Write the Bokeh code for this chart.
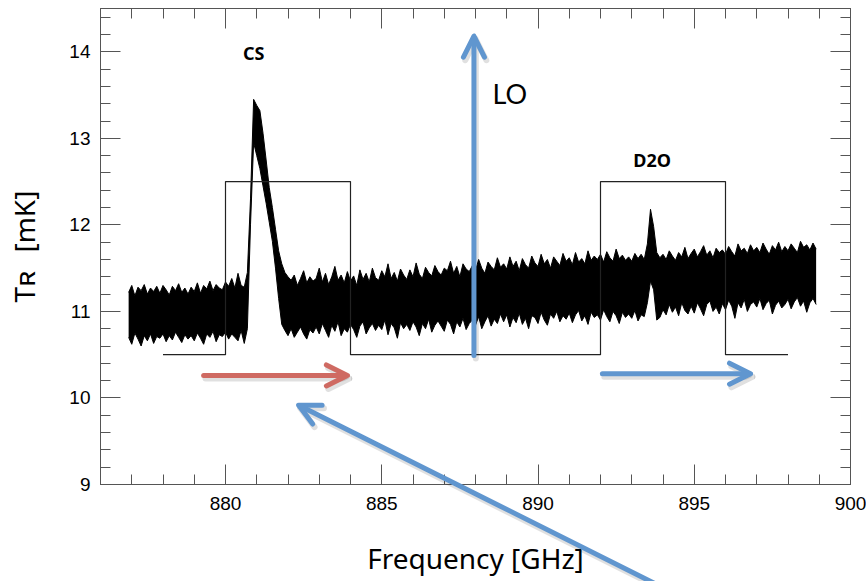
import numpy as np
from math import pi
from bokeh.plotting import figure
from bokeh.models import (LinearAxis, SingleIntervalTicker, Label, Arrow,
                          OpenHead, GridBox)
from bokeh.embed import file_html
from bokeh.resources import INLINE

# ---------------- data ----------------
# spectrometer channel grid (GHz)
freq_start = 876.9
channel_width = 0.1

# upper / lower envelope of the noisy spectrum (mK), one value per channel
spec_hi = [
    11.22, 11.30, 11.18, 11.28, 11.24, 11.31, 11.20, 11.27, 11.23, 11.29,
    11.21, 11.30, 11.25, 11.19, 11.29, 11.24, 11.32, 11.22, 11.27, 11.20,
    11.28, 11.23, 11.33, 11.21, 11.30, 11.26, 11.35, 11.24, 11.31, 11.27,
    11.25, 11.34, 11.29, 11.38, 11.27, 11.44, 11.30, 11.28, 11.45, 12.30,
    13.45, 13.38, 13.32, 13.06, 12.75, 12.43, 12.20, 11.95, 11.70, 11.55,
    11.45, 11.40, 11.36, 11.42, 11.30, 11.38, 11.47, 11.33, 11.40, 11.35,
    11.38, 11.50, 11.34, 11.44, 11.31, 11.40, 11.52, 11.36, 11.42, 11.33,
    11.46, 11.35, 11.41, 11.30, 11.48, 11.37, 11.44, 11.34, 11.50, 11.39,
    11.36, 11.47, 11.40, 11.55, 11.38, 11.45, 11.35, 11.49, 11.42, 11.37,
    11.48, 11.40, 11.56, 11.43, 11.38, 11.51, 11.45, 11.41, 11.53, 11.46,
    11.42, 11.50, 11.47, 11.58, 11.44, 11.52, 11.40, 11.55, 11.49, 11.46,
    11.53, 11.47, 11.60, 11.50, 11.44, 11.57, 11.52, 11.48, 11.62, 11.51,
    11.55, 11.49, 11.63, 11.52, 11.58, 11.47, 11.61, 11.54, 11.50, 11.64,
    11.56, 11.52, 11.66, 11.55, 11.60, 11.50, 11.63, 11.58, 11.53, 11.67,
    11.58, 11.62, 11.54, 11.68, 11.57, 11.61, 11.55, 11.70, 11.59, 11.64,
    11.60, 11.66, 11.57, 11.69, 11.62, 11.58, 11.72, 11.61, 11.65, 11.59,
    11.63, 11.58, 11.67, 11.61, 11.66, 11.60, 11.78, 12.18, 11.98, 11.68,
    11.62, 11.66, 11.60, 11.70, 11.64, 11.59, 11.68, 11.63, 11.74, 11.61,
    11.67, 11.72, 11.63, 11.69, 11.76, 11.65, 11.70, 11.62, 11.73, 11.68,
    11.71, 11.66, 11.75, 11.69, 11.64, 11.78, 11.70, 11.73, 11.67, 11.77,
    11.70, 11.74, 11.68, 11.79, 11.72, 11.66, 11.76, 11.71, 11.80, 11.69,
    11.75, 11.70, 11.78, 11.73, 11.68, 11.81, 11.74, 11.77, 11.71, 11.79,
    11.72,
]
spec_lo = [
    10.70, 10.62, 10.75, 10.68, 10.60, 10.72, 10.66, 10.74, 10.63, 10.71,
    10.69, 10.74, 10.65, 10.72, 10.67, 10.76, 10.70, 10.64, 10.73, 10.68,
    10.72, 10.66, 10.75, 10.69, 10.62, 10.74, 10.70, 10.77, 10.65, 10.73,
    10.71, 10.76, 10.68, 10.74, 10.70, 10.66, 10.78, 10.63, 10.80, 12.00,
    12.95, 12.80, 12.65, 12.45, 12.25, 12.03, 11.81, 11.50, 11.15, 10.85,
    10.78, 10.72, 10.80, 10.70, 10.76, 10.82, 10.74, 10.68, 10.79, 10.75,
    10.82, 10.74, 10.86, 10.78, 10.70, 10.84, 10.77, 10.88, 10.72, 10.80,
    10.76, 10.85, 10.79, 10.70, 10.83, 10.88, 10.74, 10.81, 10.86, 10.78,
    10.84, 10.79, 10.90, 10.73, 10.86, 10.81, 10.69, 10.87, 10.80, 10.85,
    10.78, 10.88, 10.82, 10.72, 10.86, 10.80, 10.91, 10.76, 10.84, 10.89,
    10.83, 10.77, 10.90, 10.85, 10.74, 10.88, 10.82, 10.92, 10.79, 10.86,
    10.90, 10.84, 10.94, 10.80, 10.88, 10.95, 10.83, 10.91, 10.86, 10.97,
    10.88, 10.96, 10.82, 10.93, 10.87, 10.98, 10.85, 10.92, 10.80, 10.95,
    10.93, 10.86, 10.99, 10.90, 10.84, 10.97, 10.92, 11.00, 10.88, 10.95,
    10.91, 10.98, 10.87, 10.96, 11.01, 10.89, 10.95, 10.85, 10.99, 10.93,
    10.96, 10.90, 11.02, 10.94, 10.88, 11.00, 10.95, 10.86, 10.99, 10.93,
    10.97, 10.92, 11.01, 10.89, 10.96, 10.94, 11.10, 11.35, 11.25, 10.90,
    10.93, 11.02, 10.96, 11.08, 10.99, 11.05, 10.95, 11.10, 11.01, 10.97,
    11.06, 10.98, 11.10, 11.03, 10.95, 11.08, 11.12, 11.00, 11.05, 10.97,
    11.09, 11.02, 11.13, 11.06, 10.92, 11.10, 11.04, 11.14, 11.00, 11.08,
    11.11, 11.05, 11.15, 11.02, 11.09, 11.13, 10.97, 11.07, 11.12, 11.04,
    11.08, 11.14, 11.03, 11.11, 11.16, 11.06, 11.12, 10.99, 11.10, 11.15,
    11.08,
]
freq = [round(freq_start + i * channel_width, 2) for i in range(len(spec_hi))]

# sideband boxes
box_x = [878, 880, 880, 884, 884, 892, 892, 896, 896, 898]
box_y = [10.5, 10.5, 12.5, 12.5, 10.5, 10.5, 12.5, 12.5, 10.5, 10.5]

# line labels
line_names = ["CS", "D2O"]
line_x = [880.9, 893.65]
line_y = [13.99, 12.75]

x_ticks = [880, 885, 890, 895, 900]
y_ticks = [9, 10, 11, 12, 13, 14]

BLUE = "#6096cf"
RED = "#cf6a62"
AXC = "#555555"

W, H = 866, 581
BL, BR, BT, BB = 100, 16, 8, 97
X0, X1, Y0, Y1 = 876, 900, 9, 14.5

# ---------------- figure ----------------
p = figure(width=W, height=H, x_range=(X0, X1), y_range=(Y0, Y1),
           output_backend="svg", toolbar_location=None,
           min_border_left=BL, min_border_right=BR, min_border_top=BT,
           min_border_bottom=BB)
p.frame_align = False
p.grid.visible = False
p.outline_line_color = AXC
p.background_fill_color = "white"
p.border_fill_color = "white"


def style_axis(ax, labels, ticks):
    ax.axis_line_color = AXC
    ax.major_tick_line_color = AXC
    ax.minor_tick_line_color = AXC
    ax.major_tick_in = 20
    ax.major_tick_out = 0
    ax.minor_tick_in = 10
    ax.minor_tick_out = 0
    if labels:
        ax.major_label_text_font = "Liberation Sans"
        ax.major_label_text_font_size = "19px"
        ax.major_label_text_color = "black"
    else:
        ax.major_label_text_font_size = "0px"
        ax.major_label_standoff = 0
        ax.major_label_overrides = {t: "" for t in ticks}


xt = lambda: SingleIntervalTicker(interval=5, num_minor_ticks=5)
yt = lambda: SingleIntervalTicker(interval=1, num_minor_ticks=5)

p.xaxis.ticker = xt()
p.yaxis.ticker = yt()
style_axis(p.xaxis[0], True, x_ticks)
style_axis(p.yaxis[0], True, y_ticks)
p.xaxis.major_label_standoff = 12
p.yaxis.major_label_standoff = 10
p.xaxis.axis_label = "Frequency [GHz]"
p.xaxis.axis_label_text_font = "Noto Sans"
p.xaxis.axis_label_text_font_size = "28px"
p.xaxis.axis_label_text_font_style = "normal"
p.xaxis.axis_label_text_color = "black"
p.xaxis.axis_label_standoff = 26

# T with a small-capital R standing in for the subscript
p.yaxis.axis_label = "T\u0280\u2002\u2009[mK]"
p.yaxis.axis_label_text_font = "Noto Sans"
p.yaxis.axis_label_text_font_size = "28px"
p.yaxis.axis_label_text_font_style = "normal"
p.yaxis.axis_label_text_color = "black"
p.yaxis.axis_label_standoff = 23

top = LinearAxis(ticker=xt())
style_axis(top, False, x_ticks + [875])
p.add_layout(top, "above")
right = LinearAxis(ticker=yt())
style_axis(right, False, y_ticks)
p.add_layout(right, "right")

# spectrum
p.varea(x=freq, y1=spec_lo, y2=spec_hi, fill_color="black")
p.line(freq, spec_hi, line_color="black", line_width=1)
p.line(freq, spec_lo, line_color="black", line_width=1)

# boxes
p.line(box_x, box_y, line_color="#222222", line_width=1.2)

# line labels
for name, lx, ly in zip(line_names, line_x, line_y):
    p.add_layout(Label(x=lx, y=ly, text=name, text_align="center",
                       text_baseline="middle", text_font="Noto Sans",
                       text_font_style="bold", text_font_size="18px",
                       text_color="black"))

p.add_layout(Label(x=889.1, y=13.52, text="LO", text_align="center",
                   text_baseline="middle", text_font="Lato",
                   text_font_size="27px", text_color="black"))

# transparent overlay figure spanning the whole canvas (same data mapping),
# so that the pointer arrow may run below the axis
fw = W - BL - BR
fh = H - BT - BB
sx = (X1 - X0) / fw
sy = (Y1 - Y0) / fh
ov = figure(width=W, height=H,
            x_range=(X0 - BL * sx, X1 + BR * sx),
            y_range=(Y0 - BB * sy, Y1 + BT * sy),
            output_backend="svg", toolbar_location=None,
            x_axis_type=None, y_axis_type=None,
            min_border=0, min_border_left=0, min_border_right=0,
            min_border_top=0, min_border_bottom=0)
ov.frame_align = False
ov.grid.visible = False
ov.outline_line_color = None
ov.background_fill_color = None
ov.border_fill_color = None


# arrows
def arrow(fig, x0, y0, x1, y1, color, size=21):
    # soft drop shadow
    fig.add_layout(Arrow(end=OpenHead(size=size, line_color="black",
                                      line_alpha=0.12, line_width=6,
                                      line_cap="round", line_join="round"),
                         x_start=x0 + 0.06, y_start=y0 - 0.035,
                         x_end=x1 + 0.06, y_end=y1 - 0.035,
                         line_color="black", line_alpha=0.12, line_width=6,
                         line_cap="round"))
    fig.add_layout(Arrow(end=OpenHead(size=size, line_color=color,
                                      line_width=5, line_cap="round",
                                      line_join="round"),
                         x_start=x0, y_start=y0, x_end=x1, y_end=y1,
                         line_color=color, line_width=5, line_cap="round",
                         level="overlay"))


arrow(p, 879.3, 10.26, 883.9, 10.26, RED)
arrow(p, 892.06, 10.28, 896.8, 10.28, BLUE)
arrow(p, 887.95, 10.49, 887.95, 14.18, BLUE)
arrow(ov, 894.6, 7.7, 882.34, 9.915, BLUE)

layout = GridBox(children=[(p, 0, 0), (ov, 0, 0)])

open("out.html", "w").write(file_html(layout, INLINE))
